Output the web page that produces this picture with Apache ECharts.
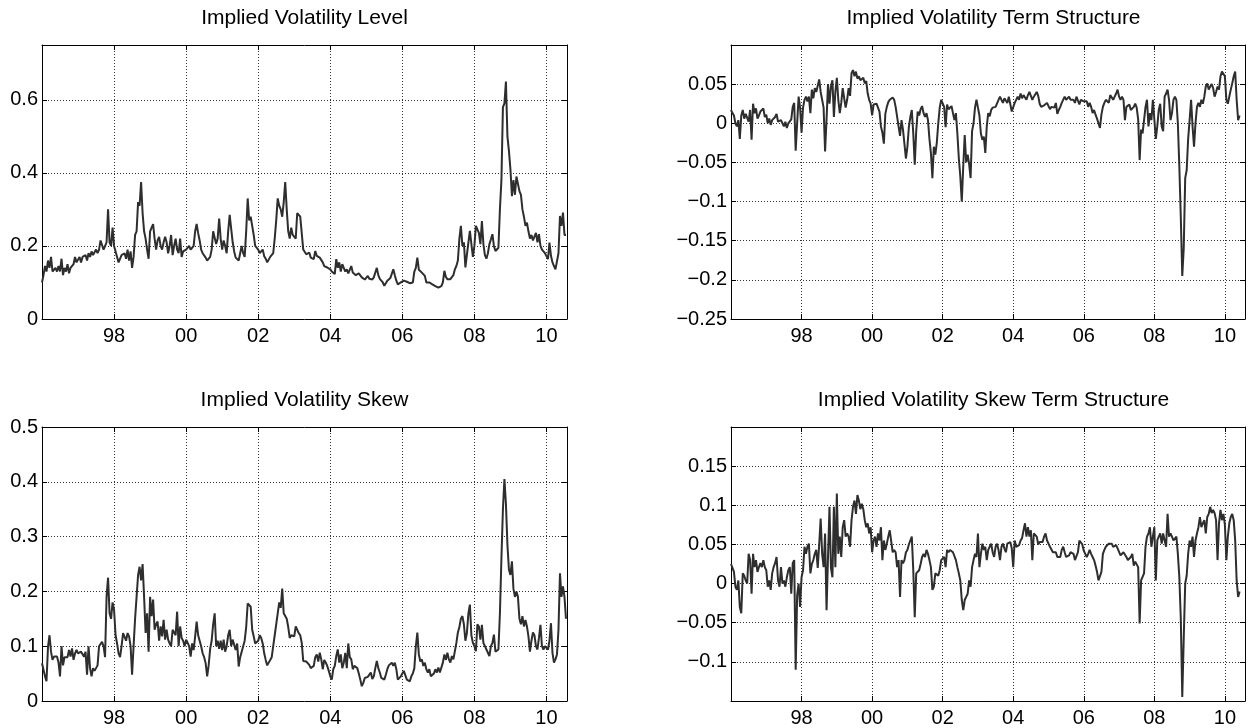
<!DOCTYPE html>
<html><head><meta charset="utf-8">
<script src="https://cdn.jsdelivr.net/npm/echarts@6/dist/echarts.min.js"></script>
<style>html,body{margin:0;padding:0;background:#fff}#c{width:1248px;height:728px}</style>
</head><body><div id="c"></div>
<script>
// ---- data (semi-monthly samples, starting Jan 1996) ----
const START_YEAR = 1996;
const STEPS_PER_YEAR = 24;
const X_MIN = 1996, X_MAX = 2010.57, X_INTERVAL = 2;
const xTickYears = [1998, 2000, 2002, 2004, 2006, 2008, 2010];
const xTickLabels = ['98', '00', '02', '04', '06', '08', '10'];

const titles = ['Implied Volatility Level', 'Implied Volatility Term Structure',
                'Implied Volatility Skew', 'Implied Volatility Skew Term Structure'];

const levelYTicks = [0, 0.2, 0.4, 0.6];
const termYTicks = [-0.25, -0.2, -0.15, -0.1, -0.05, 0, 0.05];
const skewYTicks = [0, 0.1, 0.2, 0.3, 0.4, 0.5];
const skewTermYTicks = [-0.1, -0.05, 0, 0.05, 0.1, 0.15];

const levelValues = [
 0.10,0.12,0.145,0.13,0.16,0.14,0.17,0.13,0.125,0.14,0.13,0.145,0.13,0.165,0.12,0.14,0.13,0.15,0.125,0.14,0.135,0.15,0.17,0.155,
 0.16,0.17,0.155,0.17,0.165,0.175,0.16,0.18,0.17,0.185,0.175,0.18,0.19,0.18,0.19,0.215,0.22,0.19,0.185,0.21,0.30,0.21,0.20,0.25,
 0.20,0.185,0.17,0.155,0.15,0.175,0.17,0.18,0.165,0.19,0.16,0.185,0.14,0.17,0.23,0.24,0.32,0.31,0.375,0.29,0.24,0.22,0.19,0.165,
 0.24,0.25,0.26,0.22,0.19,0.215,0.225,0.20,0.19,0.21,0.225,0.21,0.18,0.20,0.23,0.175,0.20,0.22,0.19,0.18,0.22,0.17,0.185,0.19,
 0.19,0.195,0.20,0.19,0.19,0.20,0.24,0.26,0.235,0.215,0.19,0.18,0.175,0.168,0.16,0.155,0.17,0.19,0.24,0.235,0.205,0.22,0.275,0.22,
 0.19,0.215,0.20,0.18,0.24,0.285,0.29,0.21,0.185,0.168,0.165,0.16,0.18,0.20,0.18,0.17,0.24,0.33,0.27,0.28,0.255,0.23,0.20,0.195,
 0.19,0.18,0.185,0.19,0.172,0.165,0.155,0.16,0.17,0.165,0.18,0.22,0.27,0.33,0.31,0.30,0.28,0.32,0.375,0.30,0.24,0.22,0.25,0.23,
 0.225,0.22,0.29,0.295,0.28,0.235,0.19,0.185,0.177,0.173,0.182,0.168,0.173,0.164,0.186,0.173,0.168,0.168,0.164,0.155,0.145,0.15,0.141,0.136,
 0.136,0.13,0.125,0.123,0.164,0.14,0.155,0.13,0.15,0.155,0.13,0.136,0.125,0.12,0.145,0.127,0.13,0.12,0.115,0.125,0.127,0.114,0.11,0.108,
 0.108,0.118,0.11,0.105,0.108,0.114,0.118,0.14,0.12,0.11,0.105,0.10,0.091,0.098,0.105,0.11,0.112,0.114,0.136,0.12,0.105,0.095,0.10,0.10,
 0.10,0.105,0.109,0.102,0.10,0.098,0.095,0.10,0.13,0.14,0.168,0.135,0.13,0.127,0.122,0.118,0.10,0.10,0.10,0.098,0.095,0.094,0.09,0.086,
 0.086,0.086,0.09,0.10,0.132,0.115,0.109,0.11,0.109,0.11,0.12,0.136,0.145,0.16,0.22,0.255,0.20,0.21,0.141,0.136,0.209,0.241,0.205,0.17,
 0.20,0.255,0.259,0.236,0.205,0.268,0.205,0.175,0.165,0.18,0.205,0.218,0.232,0.20,0.186,0.182,0.195,0.30,0.38,0.58,0.59,0.65,0.50,0.46,
 0.41,0.336,0.38,0.34,0.39,0.39,0.35,0.34,0.30,0.28,0.255,0.264,0.24,0.22,0.23,0.215,0.21,0.236,0.21,0.232,0.20,0.19,0.186,0.18,
 0.172,0.164,0.209,0.173,0.155,0.145,0.136,0.132,0.18,0.282,0.255,0.291,0.23,0.23
];

const termValues = [
 0.017,0.013,0.01,0.0,-0.004,0.004,-0.02,0.01,0.017,0.006,0.012,0.012,0.002,0.017,-0.021,0.025,0.013,0.019,0.006,0.01,0.015,0.014,0.019,0.008,
 0.011,0.0,0.006,-0.002,0.004,0.002,0.008,0.012,0.002,0.0,0.004,0.0,-0.004,0.002,-0.006,0.0,-0.002,0.005,0.021,0.026,-0.035,0.0,0.034,0.02,
 -0.012,0.02,0.03,0.034,0.028,0.034,0.013,0.043,0.032,0.045,0.04,0.048,0.056,0.04,0.04,0.02,-0.036,0.005,0.05,0.025,0.047,0.055,0.008,0.04,
 0.058,0.03,0.013,0.026,0.045,0.032,0.02,0.03,0.045,0.035,0.064,0.068,0.06,0.066,0.057,0.06,0.055,0.055,0.058,0.051,0.054,0.038,0.03,0.025,
 0.01,0.024,0.022,0.025,0.026,0.015,-0.004,-0.012,-0.026,0.012,0.021,0.027,0.03,0.032,0.033,0.03,0.021,0.02,-0.004,-0.016,0.004,-0.008,-0.01,-0.045,
 -0.03,-0.005,0.008,0.017,-0.013,-0.053,-0.01,0.015,0.01,0.018,0.022,0.013,0.008,0.013,0.004,-0.02,-0.038,-0.07,-0.03,-0.04,-0.025,0.0,0.02,0.03,
 0.03,0.021,-0.005,0.024,0.018,0.017,0.022,0.02,0.004,0.013,-0.013,-0.045,-0.068,-0.1,-0.055,-0.015,-0.05,-0.04,-0.052,-0.07,-0.01,0.0,0.02,0.03,
 0.02,0.01,-0.013,-0.021,-0.017,-0.038,-0.004,0.013,0.009,0.017,0.02,0.021,0.021,0.021,0.03,0.034,0.03,0.026,0.032,0.03,0.026,0.034,0.032,0.015,
 0.013,0.026,0.03,0.034,0.03,0.038,0.032,0.036,0.034,0.03,0.036,0.04,0.038,0.03,0.034,0.036,0.04,0.035,0.025,0.021,0.021,0.023,0.021,0.026,
 0.022,0.018,0.021,0.019,0.02,0.026,0.012,0.017,0.021,0.026,0.028,0.034,0.03,0.032,0.034,0.03,0.03,0.03,0.026,0.034,0.032,0.024,0.03,0.03,
 0.028,0.03,0.028,0.021,0.026,0.021,0.013,0.017,0.011,0.006,0.0,-0.006,0.011,0.021,0.026,0.03,0.03,0.026,0.036,0.034,0.03,0.032,0.038,0.043,
 0.034,0.03,0.034,0.03,0.004,0.021,0.021,0.024,0.017,0.019,0.021,0.025,0.02,0.005,-0.047,-0.008,-0.013,0.004,0.021,0.03,-0.004,0.013,0.004,0.03,
 0.03,-0.02,-0.004,0.017,0.025,-0.004,-0.01,0.034,0.038,0.043,0.03,0.004,0.013,0.03,0.034,0.03,0.0,-0.055,-0.12,-0.195,-0.16,-0.07,-0.06,-0.02,
 0.004,0.03,-0.004,-0.03,0.0,0.021,0.026,0.021,0.03,0.025,0.034,0.047,0.051,0.043,0.047,0.05,0.045,0.034,0.04,0.047,0.043,0.06,0.066,0.064,
 0.06,0.03,0.025,0.034,0.043,0.051,0.06,0.066,0.03,0.004,0.01
];

const skewValues = [
 0.069,0.057,0.045,0.036,0.099,0.12,0.09,0.075,0.081,0.078,0.081,0.07,0.045,0.10,0.065,0.08,0.081,0.08,0.093,0.081,0.096,0.075,0.087,0.093,
 0.087,0.09,0.09,0.087,0.081,0.09,0.048,0.10,0.06,0.045,0.06,0.055,0.06,0.065,0.10,0.10,0.108,0.10,0.08,0.19,0.225,0.16,0.15,0.18,
 0.166,0.12,0.105,0.087,0.08,0.10,0.124,0.124,0.11,0.124,0.118,0.10,0.048,0.10,0.15,0.19,0.23,0.245,0.22,0.25,0.19,0.124,0.16,0.09,
 0.19,0.155,0.185,0.13,0.14,0.145,0.11,0.136,0.118,0.148,0.112,0.13,0.112,0.105,0.10,0.13,0.13,0.12,0.163,0.10,0.136,0.115,0.11,0.10,
 0.112,0.11,0.10,0.081,0.105,0.093,0.118,0.145,0.12,0.11,0.10,0.087,0.08,0.069,0.045,0.065,0.095,0.11,0.14,0.16,0.10,0.11,0.095,0.11,
 0.093,0.112,0.09,0.10,0.12,0.13,0.10,0.112,0.11,0.093,0.105,0.063,0.08,0.09,0.10,0.11,0.135,0.178,0.175,0.172,0.13,0.118,0.105,0.102,
 0.11,0.12,0.115,0.105,0.087,0.075,0.065,0.07,0.075,0.08,0.10,0.12,0.14,0.16,0.18,0.17,0.205,0.16,0.16,0.15,0.135,0.115,0.12,0.122,
 0.118,0.136,0.139,0.124,0.12,0.106,0.073,0.076,0.072,0.07,0.066,0.06,0.058,0.064,0.08,0.085,0.072,0.088,0.076,0.058,0.075,0.07,0.064,0.055,
 0.045,0.039,0.058,0.064,0.082,0.094,0.07,0.085,0.06,0.07,0.088,0.06,0.105,0.08,0.076,0.058,0.064,0.061,0.06,0.05,0.039,0.027,0.033,0.042,
 0.045,0.044,0.042,0.052,0.04,0.045,0.06,0.073,0.06,0.052,0.042,0.039,0.039,0.048,0.058,0.065,0.068,0.07,0.064,0.07,0.058,0.039,0.039,0.045,
 0.05,0.055,0.052,0.039,0.042,0.036,0.045,0.05,0.06,0.10,0.125,0.085,0.072,0.076,0.064,0.07,0.058,0.052,0.058,0.045,0.042,0.05,0.058,0.052,
 0.061,0.052,0.05,0.07,0.085,0.075,0.088,0.076,0.07,0.082,0.076,0.091,0.106,0.125,0.135,0.15,0.155,0.14,0.11,0.124,0.16,0.176,0.12,0.106,
 0.10,0.091,0.14,0.136,0.112,0.139,0.106,0.10,0.094,0.088,0.082,0.10,0.106,0.121,0.09,0.088,0.094,0.16,0.26,0.35,0.405,0.36,0.285,0.24,
 0.23,0.255,0.205,0.19,0.20,0.19,0.15,0.14,0.155,0.136,0.148,0.136,0.118,0.09,0.11,0.125,0.12,0.10,0.094,0.115,0.139,0.10,0.094,0.10,
 0.10,0.094,0.11,0.142,0.088,0.07,0.076,0.085,0.13,0.233,0.19,0.209,0.19,0.15
];

const skewTermValues = [
 0.025,0.02,0.015,-0.004,-0.008,0.004,-0.03,-0.038,0.013,0.01,0.004,0.0,0.038,0.03,-0.013,0.038,0.021,0.03,0.015,0.021,0.026,0.021,0.03,0.021,
 0.017,-0.004,0.004,-0.008,0.013,0.021,0.026,0.034,0.004,-0.004,0.021,0.0,0.004,-0.004,0.008,0.017,0.021,-0.013,0.026,0.03,-0.11,-0.015,0.0,-0.03,
 0.008,0.017,0.047,0.038,0.047,0.051,0.013,0.025,0.03,0.038,0.043,0.02,0.05,0.083,0.038,0.021,0.064,-0.034,0.034,0.098,0.02,0.008,0.098,0.021,
 0.115,0.038,0.06,0.034,0.072,0.081,0.06,0.064,0.06,0.047,0.081,0.098,0.106,0.089,0.113,0.106,0.095,0.102,0.095,0.081,0.072,0.077,0.064,0.072,
 0.04,0.055,0.06,0.047,0.064,0.055,0.072,0.03,0.055,0.043,0.051,0.06,0.068,0.068,0.04,0.043,0.04,0.021,0.03,-0.017,0.03,0.026,0.03,0.04,
 0.043,0.05,0.055,0.06,0.017,-0.043,0.013,0.015,0.017,0.025,0.034,0.038,0.034,0.043,0.038,0.03,0.021,-0.008,-0.004,0.013,0.013,0.01,0.017,0.03,
 0.03,0.034,0.021,0.043,0.04,0.043,0.045,0.04,0.038,0.03,0.021,0.013,0.004,-0.021,-0.034,-0.021,-0.017,-0.013,0.004,-0.004,0.021,0.03,0.038,0.034,
 0.064,0.021,0.038,0.051,0.043,0.047,0.03,0.043,0.047,0.051,0.04,0.034,0.047,0.051,0.043,0.03,0.047,0.051,0.045,0.04,0.051,0.049,0.053,0.045,
 0.021,0.055,0.047,0.045,0.049,0.055,0.058,0.068,0.077,0.06,0.072,0.06,0.068,0.03,0.064,0.066,0.06,0.05,0.053,0.055,0.053,0.06,0.064,0.055,
 0.051,0.047,0.045,0.04,0.04,0.04,0.034,0.036,0.034,0.043,0.047,0.04,0.034,0.036,0.036,0.04,0.038,0.038,0.03,0.028,0.04,0.055,0.055,0.05,
 0.042,0.038,0.034,0.038,0.043,0.038,0.034,0.03,0.023,0.015,0.004,0.002,0.015,0.038,0.043,0.047,0.047,0.051,0.049,0.051,0.047,0.049,0.049,0.045,
 0.043,0.036,0.034,0.04,0.038,0.034,0.03,0.028,0.034,0.038,0.023,0.028,0.026,0.021,-0.051,0.004,0.004,0.013,0.047,0.06,0.064,0.072,0.047,0.06,
 0.072,0.004,0.055,0.06,0.064,0.051,0.064,0.055,0.047,0.089,0.06,0.064,0.06,0.055,0.055,0.06,0.038,0.008,-0.045,-0.145,-0.07,0.0,0.01,0.038,
 0.055,0.047,0.06,0.034,0.055,0.064,0.072,0.085,0.072,0.077,0.081,0.064,0.085,0.089,0.098,0.09,0.094,0.09,0.081,0.03,0.077,0.094,0.081,0.089,
 0.075,0.03,0.06,0.077,0.085,0.089,0.081,0.055,0.004,-0.017,-0.01
];

// ---- chart ----
const FONT = '"Liberation Sans", Arial, Helvetica, sans-serif';
const LINE_COLOR = '#2e2e2e';

function toPoints(values) {
  return values.map((v, i) => [START_YEAR + i / STEPS_PER_YEAR, v]);
}
function near(a, b) { return Math.abs(a - b) < 1e-7; }
function fmtNum(v) {
  const s = String(parseFloat(v.toFixed(3)));
  return s.replace('-', '\u2212');
}
function xFormatter(v) {
  for (let i = 0; i < xTickYears.length; i++) if (near(v, xTickYears[i])) return xTickLabels[i];
  return '';
}
function yFormatterFor(ticks) {
  return function (v) {
    for (const t of ticks) if (near(v, t)) return fmtNum(t);
    return '';
  };
}

const panels = [
  { title: titles[0], values: levelValues, yMin: 0, yMax: 0.75, yInt: 0.2, ticks: levelYTicks,
    grid: { left: 42, top: 45, width: 525, height: 274 } },
  { title: titles[1], values: termValues, yMin: -0.25, yMax: 0.1, yInt: 0.05, ticks: termYTicks,
    grid: { left: 731, top: 45, width: 525, height: 274 } },
  { title: titles[2], values: skewValues, yMin: 0, yMax: 0.5, yInt: 0.1, ticks: skewYTicks,
    grid: { left: 42, top: 427, width: 525, height: 275 } },
  { title: titles[3], values: skewTermValues, yMin: -0.15, yMax: 0.2, yInt: 0.05, ticks: skewTermYTicks,
    grid: { left: 731, top: 427, width: 525, height: 275 } }
];

const axisLineStyle = { show: true, onZero: false, lineStyle: { color: '#000', width: 1 } };
const tickStyle = { show: true, inside: true, length: 5, lineStyle: { color: '#000', width: 1 } };
const gridLineStyle = { show: true, lineStyle: { color: '#333', width: 1, type: [1, 2] } };

const option = { animation: false, backgroundColor: '#fff', title: [], grid: [], xAxis: [], yAxis: [], series: [] };

panels.forEach((p, i) => {
  option.grid.push(Object.assign({ containLabel: false }, p.grid));
  option.title.push({
    text: p.title, left: p.grid.left + p.grid.width / 2, top: p.grid.top - 37,
    textAlign: 'center', padding: 0,
    textStyle: { fontFamily: FONT, fontSize: 21, fontWeight: 'normal', color: '#000' }
  });
  option.xAxis.push({
    type: 'value', gridIndex: i, position: 'bottom', min: X_MIN, max: X_MAX, interval: X_INTERVAL,
    axisLine: axisLineStyle, axisTick: tickStyle,
    axisLabel: { show: true, margin: 7, color: '#000', fontFamily: FONT, fontSize: 20, formatter: xFormatter,
                 showMinLabel: true, showMaxLabel: true },
    splitLine: gridLineStyle
  });
  option.xAxis.push({
    type: 'value', gridIndex: i, position: 'top', min: X_MIN, max: X_MAX, interval: X_INTERVAL,
    axisLine: axisLineStyle, axisTick: tickStyle, axisLabel: { show: false }, splitLine: { show: false }
  });
  option.yAxis.push({
    type: 'value', gridIndex: i, position: 'left', min: p.yMin, max: p.yMax, interval: p.yInt,
    axisLine: axisLineStyle, axisTick: tickStyle,
    axisLabel: { show: true, margin: 4, color: '#000', fontFamily: FONT, fontSize: 20,
                 formatter: yFormatterFor(p.ticks) },
    splitLine: gridLineStyle
  });
  option.yAxis.push({
    type: 'value', gridIndex: i, position: 'right', min: p.yMin, max: p.yMax, interval: p.yInt,
    axisLine: axisLineStyle, axisTick: tickStyle, axisLabel: { show: false }, splitLine: { show: false }
  });
  option.series.push({
    type: 'line', xAxisIndex: 2 * i, yAxisIndex: 2 * i, data: toPoints(p.values),
    showSymbol: false, symbol: 'none', clip: true,
    lineStyle: { color: LINE_COLOR, width: 2 }, z: 5
  });
});

const chart = echarts.init(document.getElementById('c'), null, { renderer: 'canvas' });
chart.setOption(option);
</script>
</body></html>
